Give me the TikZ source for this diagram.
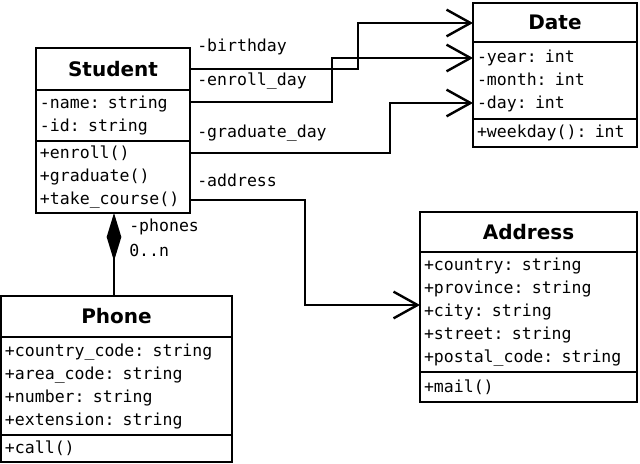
\documentclass[tikz,border=0pt]{standalone}
\usepackage{fontspec}
\setmonofont{DejaVu Sans Mono}
\setsansfont{DejaVu Sans}
\usetikzlibrary{arrows.meta, positioning}
\tikzset{
  part/.style={draw, line width=1.8pt, anchor=north west, inner xsep=3pt, inner ysep=0pt, outer sep=0pt,
    align=left, font=\fontsize{12.4}{17.25}\selectfont\ttfamily},
  title/.style={part, align=center, font=\fontsize{15}{16}\selectfont\sffamily\bfseries},
  assoc/.style={line width=1.8pt, -{Straight Barb[length=18pt, width=20pt, line width=1.8pt]}},
  lbl/.style={anchor=west, inner sep=0pt, font=\fontsize{12.4}{15}\selectfont\ttfamily}
}
\begin{document}
\begin{tikzpicture}[x=0.75pt, y=-0.75pt]
    \useasboundingbox (0,0) rectangle (640,464);

    % Student
    \node[title, text width=109.5pt, minimum height=31.5pt] (stitle) at (36,48) {Student};
    \node[part, text width=109.5pt, minimum height=38.25pt] (sattr) at (stitle.south west) {-name: string\\-id: string};
    \node[part, text width=109.5pt, minimum height=54pt] (smeth) at (sattr.south west) {+enroll()\\+graduate()\\+take\_course()};

    % Date
    \node[title, text width=117pt, minimum height=29.25pt] (dtitle) at (473,3) {Date};
    \node[part, text width=117pt, minimum height=57.75pt] (dattr) at (dtitle.south west) {-year: int\\-month: int\\-day: int};
    \node[part, text width=117pt, minimum height=21pt] (dmeth) at (dattr.south west) {+weekday(): int};

    % Address
    \node[title, text width=156.75pt, minimum height=30pt] (atitle) at (420,212) {Address};
    \node[part, text width=156.75pt, minimum height=90pt] (aattr) at (atitle.south west) {+country: string\\+province: string\\+city: string\\+street: string\\+postal\_code: string};
    \node[part, text width=156.75pt, minimum height=22.5pt] (ameth) at (aattr.south west) {+mail()};

    % Phone
    \node[title, text width=167.25pt, minimum height=30.75pt] (ptitle) at (1,296) {Phone};
    \node[part, text width=167.25pt, minimum height=73.5pt] (pattr) at (ptitle.south west) {+country\_code: string\\+area\_code: string\\+number: string\\+extension: string};
    \node[part, text width=167.25pt, minimum height=20.25pt] (pmeth) at (pattr.south west) {+call()};

    % Associations
    \draw[assoc] (stitle.east |- 0,69) -- (358,69) -- (358,23) -- (dtitle.west |- 0,23);
    \draw[assoc] (sattr.east |- 0,102) -- (332,102) -- (332,58) -- (dattr.west |- 0,58);
    \draw[assoc] (smeth.east |- 0,153) -- (390,153) -- (390,103) -- (dattr.west |- 0,103);
    \draw[assoc] (smeth.east |- 0,200) -- (305,200) -- (305,305) -- (aattr.west |- 0,305);
    \node[lbl] (lbirth) at (197,47) {-birthday};
    \node[lbl] (lenroll) at (197,81) {-enroll\_day};
    \node[lbl] (lgrad) at (197,133) {-graduate\_day};
    \node[lbl] (laddr) at (197,180) {-address};

    % Composition
    \draw[line width=1.8pt, {Diamond[length=36pt, width=11pt, line width=1pt]}-] (114,213) -- (ptitle.north -| 114,0);
    \node[lbl] (lphones) at (129,227) {-phones};
    \node[lbl] (lmult) at (129,250) {0..n};
\end{tikzpicture}
\end{document}
